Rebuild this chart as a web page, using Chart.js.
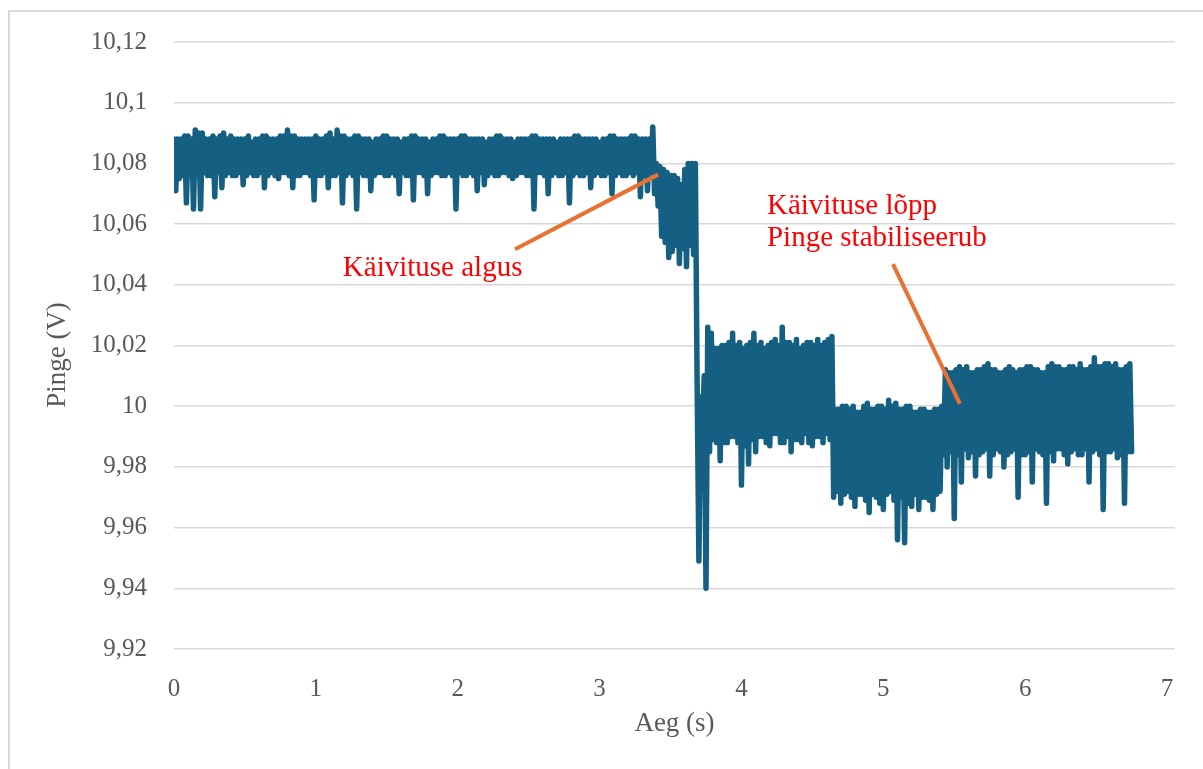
<!DOCTYPE html>
<html>
<head>
<meta charset="utf-8">
<script src="https://cdn.jsdelivr.net/npm/chart.js@4.4.1/dist/chart.umd.min.js"></script>
<style>
  html, body { margin: 0; padding: 0; background: #fff; overflow: hidden; }
  #wrap { position: relative; width: 1203px; height: 769px; }
  #frame { position: absolute; left: 8px; top: 10px; right: -20px; bottom: -20px; border: 2px solid #d9d9d9; }
  #chart { position: absolute; left: 0; top: 0; }
</style>
</head>
<body>
<div id="wrap">
  <div id="frame"></div>
  <canvas id="chart" width="1203" height="769"></canvas>
</div>
<script>
// ---- DATA ----
// one sample every 12.5 ms, read off the picture phase by phase
const sampleInterval = 0.0125; // s

// before the start (0 .. 3.39 s)
const idleVolts = [
  10.088, 10.071, 10.088, 10.075, 10.088, 10.076, 10.089, 10.067, 10.089, 10.076,
  10.088, 10.065, 10.091, 10.076, 10.090, 10.065, 10.090, 10.077, 10.088, 10.076,
  10.088, 10.076, 10.089, 10.069, 10.088, 10.077, 10.089, 10.072, 10.090, 10.076,
  10.088, 10.077, 10.089, 10.076, 10.088, 10.076, 10.088, 10.077, 10.088, 10.073,
  10.088, 10.076, 10.089, 10.077, 10.087, 10.076, 10.088, 10.076, 10.088, 10.077,
  10.089, 10.072, 10.089, 10.076, 10.088, 10.077, 10.088, 10.076, 10.088, 10.075,
  10.089, 10.077, 10.089, 10.077, 10.091, 10.076, 10.089, 10.072, 10.089, 10.076,
  10.088, 10.076, 10.088, 10.077, 10.088, 10.077, 10.088, 10.076, 10.088, 10.068,
  10.089, 10.076, 10.088, 10.076, 10.088, 10.077, 10.089, 10.072, 10.090, 10.076,
  10.088, 10.076, 10.091, 10.077, 10.089, 10.067, 10.089, 10.076, 10.088, 10.077,
  10.088, 10.076, 10.089, 10.065, 10.089, 10.077, 10.088, 10.076, 10.088, 10.076,
  10.088, 10.071, 10.087, 10.076, 10.088, 10.077, 10.088, 10.077, 10.089, 10.076,
  10.089, 10.076, 10.088, 10.077, 10.088, 10.076, 10.088, 10.070, 10.087, 10.077,
  10.088, 10.076, 10.088, 10.076, 10.089, 10.068, 10.089, 10.077, 10.088, 10.077,
  10.088, 10.076, 10.088, 10.070, 10.087, 10.076, 10.088, 10.077, 10.088, 10.077,
  10.089, 10.076, 10.089, 10.076, 10.088, 10.077, 10.088, 10.076, 10.088, 10.065,
  10.088, 10.077, 10.089, 10.076, 10.089, 10.076, 10.088, 10.077, 10.088, 10.076,
  10.088, 10.071, 10.088, 10.077, 10.088, 10.073, 10.087, 10.076, 10.088, 10.077,
  10.088, 10.076, 10.089, 10.076, 10.089, 10.077, 10.088, 10.077, 10.088, 10.076,
  10.088, 10.075, 10.087, 10.076, 10.088, 10.077, 10.088, 10.077, 10.088, 10.076,
  10.088, 10.076, 10.089, 10.065, 10.089, 10.077, 10.088, 10.077, 10.088, 10.076,
  10.088, 10.070, 10.088, 10.076, 10.088, 10.077, 10.087, 10.076, 10.088, 10.076,
  10.088, 10.077, 10.088, 10.067, 10.088, 10.076, 10.089, 10.077, 10.089, 10.076,
  10.088, 10.076, 10.088, 10.077, 10.088, 10.072, 10.088, 10.076, 10.088, 10.077,
  10.087, 10.076, 10.088, 10.076, 10.088, 10.077, 10.089, 10.070, 10.089, 10.076,
  10.088, 10.077, 10.088, 10.076, 10.088, 10.076, 10.088, 10.077, 10.089, 10.076,
  10.089, 10.077, 10.088, 10.069, 10.088, 10.076, 10.088, 10.071, 10.088, 10.077,
  10.092, 10.070
];
// cranking (3.4 .. 3.79 s)
const crankVolts = [
  10.080, 10.066, 10.079, 10.056, 10.078, 10.054, 10.077, 10.049, 10.076, 10.051,
  10.076, 10.053, 10.075, 10.047, 10.073, 10.052, 10.078, 10.046, 10.080, 10.053,
  10.080, 10.050, 10.080, 10.008, 9.949, 10.003, 9.990, 10.010, 9.940, 10.026,
  9.985, 10.024
];
// after the start (3.8 .. 4.64 s)
const runVolts = [
  9.989, 10.019, 9.988, 10.019, 9.982, 10.020, 9.988, 10.020, 9.988, 10.021,
  9.990, 10.024, 9.990, 10.020, 9.988, 10.021, 9.974, 10.019, 9.987, 10.020,
  9.981, 10.021, 9.989, 10.024, 9.985, 10.020, 9.990, 10.021, 9.990, 10.019,
  9.988, 10.020, 9.987, 10.021, 9.991, 10.022, 9.991, 10.020, 9.988, 10.026,
  9.988, 10.021, 9.990, 10.021, 9.985, 10.020, 9.989, 10.022, 9.989, 10.019,
  9.988, 10.020, 9.991, 10.021, 9.988, 10.021, 9.987, 10.020, 9.990, 10.022,
  9.990, 10.020, 9.988, 10.021, 9.991, 10.022, 9.989, 10.023
];
// sag (4.65 .. 5.41 s)
const sagVolts = [
  9.970, 9.999, 9.972, 9.999, 9.968, 10.000, 9.971, 10.000, 9.972, 9.999,
  9.970, 10.000, 9.967, 9.998, 9.971, 9.998, 9.971, 10.000, 9.969, 10.001,
  9.965, 9.999, 9.971, 9.999, 9.970, 10.000, 9.968, 10.000, 9.966, 9.999,
  9.971, 10.002, 9.972, 10.000, 9.969, 10.001, 9.956, 9.999, 9.970, 9.999,
  9.955, 10.000, 9.968, 10.000, 9.967, 9.998, 9.971, 9.998, 9.966, 9.999,
  9.970, 9.999, 9.970, 9.998, 9.969, 9.998, 9.966, 9.999, 9.971, 9.999,
  9.972, 10.000
];
// stabilised (5.425 .. 6.75 s)
const stableVolts = [
  9.984, 10.012, 9.980, 10.011, 9.985, 10.011, 9.963, 10.012, 9.984, 10.013,
  9.975, 10.012, 9.986, 10.013, 9.983, 10.011, 9.985, 10.011, 9.977, 10.012,
  9.984, 10.012, 9.985, 10.013, 9.986, 10.014, 9.977, 10.012, 9.984, 10.012,
  9.986, 10.011, 9.985, 10.011, 9.980, 10.012, 9.984, 10.013, 9.985, 10.012,
  9.986, 10.011, 9.970, 10.012, 9.984, 10.012, 9.984, 10.013, 9.985, 10.013,
  9.975, 10.012, 9.986, 10.012, 9.985, 10.011, 9.984, 10.011, 9.968, 10.013,
  9.985, 10.014, 9.982, 10.013, 9.986, 10.013, 9.986, 10.012, 9.984, 10.012,
  9.981, 10.013, 9.985, 10.013, 9.986, 10.012, 9.984, 10.014, 9.984, 10.012,
  9.986, 10.012, 9.975, 10.013, 9.985, 10.016, 9.986, 10.013, 9.984, 10.013,
  9.966, 10.014, 9.985, 10.014, 9.985, 10.013, 9.986, 10.014, 9.983, 10.012,
  9.984, 10.012, 9.968, 10.013, 9.985, 10.014, 9.985
];

const xTicks = [0, 1, 2, 3, 4, 5, 6, 7];
const yTicks = [9.92, 9.94, 9.96, 9.98, 10, 10.02, 10.04, 10.06, 10.08, 10.1, 10.12];

// callouts, in data units (s, V)
const calloutLines = [
  [2.404, 10.0517, 3.412, 10.0763],
  [5.068, 10.0468, 5.540, 10.0008],
];
const calloutTexts = [
  { lines: ['Käivituse algus'], x: 1.19, y: 10.043 },
  { lines: ['Käivituse lõpp', 'Pinge stabiliseerub'], x: 4.18, y: 10.0633 },
];

const volts = [...idleVolts, ...crankVolts, ...runVolts, ...sagVolts, ...stableVolts];
const points = volts.map((v, i) => ({ x: i * sampleInterval, y: v }));

// ---- CALLOUTS + Y TITLE ----
const callouts = {
  id: 'callouts',
  afterDatasetsDraw(chart) {
    const { ctx, scales: { x, y } } = chart;
    ctx.save();
    ctx.strokeStyle = '#e97132';
    ctx.lineWidth = 4;
    calloutLines.forEach(([x1, y1, x2, y2]) => {
      ctx.beginPath();
      ctx.moveTo(x.getPixelForValue(x1), y.getPixelForValue(y1));
      ctx.lineTo(x.getPixelForValue(x2), y.getPixelForValue(y2));
      ctx.stroke();
    });
    ctx.fillStyle = '#ff0000';
    ctx.font = '29px "Liberation Serif", "Times New Roman", serif';
    ctx.textAlign = 'left';
    ctx.textBaseline = 'alphabetic';
    calloutTexts.forEach(t => {
      const px = x.getPixelForValue(t.x);
      const py = y.getPixelForValue(t.y);
      t.lines.forEach((line, k) => ctx.fillText(line, px, py + k * 32));
    });

    // y axis title, centred a bit lower than the plot middle as in the original
    ctx.translate(58, 355);
    ctx.rotate(-Math.PI / 2);
    ctx.fillStyle = '#595959';
    ctx.font = '27px "Liberation Serif", "Times New Roman", serif';
    ctx.textAlign = 'center';
    ctx.textBaseline = 'middle';
    ctx.fillText('Pinge (V)', 0, 0);
    ctx.restore();
  }
};

// ---- CHART ----
Chart.defaults.font.family = '"Liberation Serif", "Times New Roman", serif';
Chart.defaults.color = '#595959';

new Chart(document.getElementById('chart'), {
  type: 'line',
  data: {
    datasets: [{
      data: points,
      borderColor: '#156082',
      borderWidth: 5.5,
      borderJoinStyle: 'round',
      borderCapStyle: 'round',
      pointRadius: 0,
      tension: 0,
      fill: false,
    }],
  },
  options: {
    responsive: false,
    animation: false,
    layout: { padding: { top: 40, right: 28, left: 0, bottom: 0 } },
    plugins: { legend: { display: false }, tooltip: { enabled: false } },
    scales: {
      x: {
        type: 'linear',
        min: 0,
        max: 7.056,
        afterFit: s => { s.height = 120; },
        afterBuildTicks: s => { s.ticks = xTicks.map(v => ({ value: v })); },
        grid: { display: false },
        border: { display: false },
        ticks: { font: { size: 25 }, padding: 17, color: '#595959', maxRotation: 0 },
        title: { display: true, text: 'Aeg (s)', font: { size: 27 }, color: '#595959', padding: { top: 0, bottom: 29 } },
      },
      y: {
        min: 9.92,
        max: 10.12,
        afterFit: s => { s.width = 174; },
        afterBuildTicks: s => { s.ticks = yTicks.map(v => ({ value: v })); },
        grid: { color: '#d9d9d9', lineWidth: 1.5, drawTicks: false },
        border: { display: false },
        ticks: {
          font: { size: 25 },
          padding: 27,
          color: '#595959',
          callback: v => String(+v.toFixed(2)).replace('.', ','),
        },
      },
    },
  },
  plugins: [callouts],
});
</script>
</body>
</html>
